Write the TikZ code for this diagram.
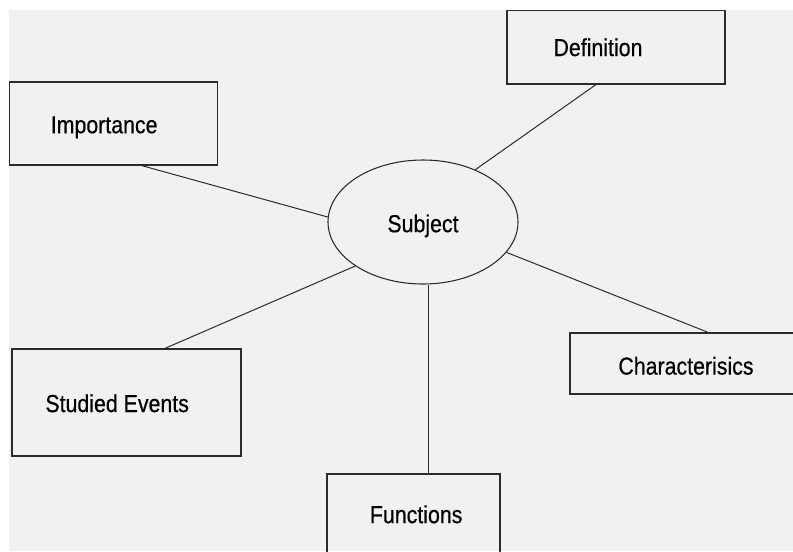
\documentclass[tikz,border=0pt]{standalone}
\usepackage{fontspec}
\setmainfont{Liberation Sans}
\newfontfamily\lblfont[FakeBold=0.5]{Liberation Sans}
\usetikzlibrary{calc,shapes.geometric}
\definecolor{paper}{HTML}{F1F1F1}
\definecolor{ink}{HTML}{2B2B2B}

\begin{document}
\begin{tikzpicture}[x=0.75pt,y=-0.75pt,
  box/.style={draw=ink, line width=1pt, rectangle, inner sep=0pt},
  oval/.style={draw=ink, line width=0.8pt, ellipse, inner sep=0pt,
               minimum width=142.5pt, minimum height=93pt},
  txt/.style={font=\lblfont\fontsize{16}{19}\selectfont, text=black, yscale=1.15},
  link/.style={draw=ink, line width=0.75pt}]
\useasboundingbox (0,0) rectangle (793,551);
\clip (0,0) rectangle (793,551);
\fill[white] (0,0) rectangle (793,551);
\fill[paper] (9,10) rectangle (793,551);

% central topic
\node[oval, label={[txt,yshift=-2.5pt]center:Subject}] (subj) at (423,222) {};

% surrounding boxes
\node[box, minimum width=163.5pt, minimum height=55pt,
      label={[txt,xshift=-13.5pt]center:Definition}] (def) at (616,47.25) {};
\node[box, minimum width=156pt, minimum height=62.25pt,
      label={[txt,xshift=-7pt,yshift=-2.5pt]center:Importance}] (imp) at (113.5,123.5) {};
\node[box, minimum width=171.75pt, minimum height=80.25pt,
      label={[txt,xshift=-7pt,yshift=-0.5pt]center:Studied Events}] (stu) at (126.5,402.5) {};
\node[box, minimum width=129.75pt, minimum height=72pt,
      label={[txt,xshift=2pt,yshift=5pt]center:Functions}] (fun) at (413.5,522) {};
\node[box, minimum width=174pt, minimum height=45.75pt,
      label={[txt,yshift=-1.5pt]center:Characterisics}] (cha) at (686,363.5) {};

% spokes
\draw[link] ($(def.south)+(-20,0)$) -- (subj.45);
\draw[link] ($(imp.south)+(28.5,0)$) -- (subj.177);
\draw[link] ($(stu.north)+(38.5,0)$) -- (subj.213);
\draw[link] ($(fun.north)+(14.5,0)$) -- ($(subj.south)+(5,0)$);
\draw[link] ($(cha.north)+(22,0)$) -- (subj.-20);
\end{tikzpicture}
\end{document}
